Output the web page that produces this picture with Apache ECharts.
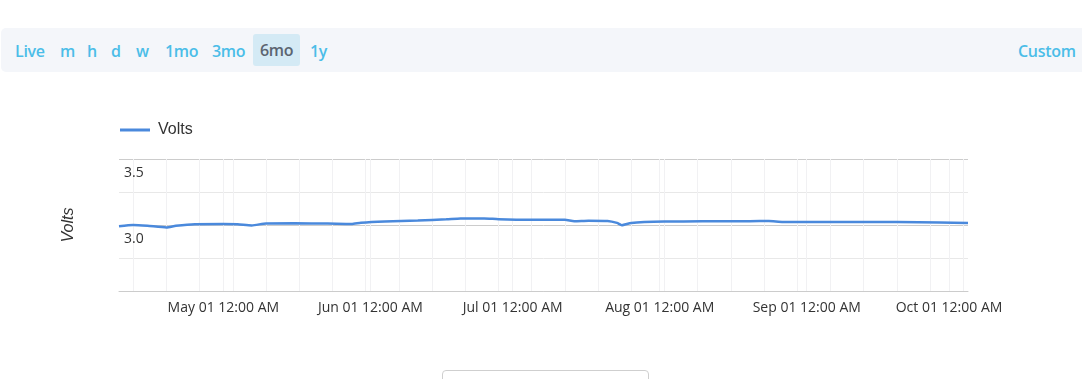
<!DOCTYPE html>
<html>
<head>
<meta charset="utf-8">
<script src="https://cdn.jsdelivr.net/npm/echarts@6/dist/echarts.min.js"></script>
<style>
  html, body { margin: 0; padding: 0; background: #ffffff; width: 1082px; height: 379px; overflow: hidden; }
  #chart { position: absolute; left: 0; top: 0; width: 1082px; height: 379px; }
  #bar { position: absolute; left: 1px; top: 28px; width: 1095px; height: 44px; background: #f4f6fa; border-radius: 5px; z-index: 2; }
  .btn { position: absolute; top: 1px; height: 44px; line-height: 44px; font-family: "Open Sans", sans-serif; font-weight: 600; font-size: 16px; letter-spacing: -0.3px; color: #4bbde8; white-space: nowrap; }
  .sel { background: #d4eaf5; color: #5b6470; border-radius: 3px; top: 6px; height: 32px; line-height: 33px; padding: 0 7px; }
  #sel { position: absolute; left: 442px; top: 370px; width: 205px; height: 20px; border: 1px solid #cfcfcf; border-radius: 4px; background: #fff; z-index: 2; }
</style>
</head>
<body>
<div id="chart"></div>
<div id="bar"></div>
<div id="sel"></div>
<script>
// ---- data ----
var rangeButtons = ['Live', 'm', 'h', 'd', 'w', '1mo', '3mo', '6mo', '1y'];
var selectedButton = '6mo';
var customButton = 'Custom';

var seriesName = 'Volts';
var dates = ['2020-04-09','2020-04-12','2020-04-15','2020-04-19','2020-04-21','2020-04-25',
             '2020-05-01','2020-05-04','2020-05-07','2020-05-10','2020-05-16','2020-05-23',
             '2020-05-28','2020-05-30','2020-06-04','2020-06-11','2020-06-17','2020-06-20',
             '2020-06-25','2020-06-28','2020-07-05','2020-07-12','2020-07-14','2020-07-17',
             '2020-07-21','2020-07-23','2020-07-24','2020-07-26','2020-08-02','2020-08-10',
             '2020-08-20','2020-08-24','2020-08-27','2020-09-20','2020-09-29','2020-10-05'];
var volts = [2.990, 3.000, 2.994, 2.982, 2.994, 3.006,
             3.007, 3.005, 2.997, 3.012, 3.013, 3.011,
             3.008, 3.017, 3.027, 3.035, 3.043, 3.050,
             3.050, 3.044, 3.040, 3.040, 3.029, 3.033,
             3.031, 3.016, 2.999, 3.016, 3.026, 3.028,
             3.029, 3.030, 3.023, 3.023, 3.019, 3.015];

var xMin = '2020-04-09';
var xMax = '2020-10-05';
var monthTicks = ['2020-05-01','2020-06-01','2020-07-01','2020-08-01','2020-09-01','2020-10-01'];
var monthNames = ['Jan','Feb','Mar','Apr','May','Jun','Jul','Aug','Sep','Oct','Nov','Dec'];
var weekTicks = ['2020-04-12','2020-04-19','2020-04-26','2020-05-03','2020-05-10','2020-05-17',
                 '2020-05-24','2020-05-31','2020-06-07','2020-06-14','2020-06-21','2020-06-28',
                 '2020-07-05','2020-07-12','2020-07-19','2020-07-26','2020-08-02','2020-08-09',
                 '2020-08-16','2020-08-23','2020-08-30','2020-09-06','2020-09-13','2020-09-20',
                 '2020-09-27','2020-10-04'];
var yMin = 2.5, yMax = 3.5, yStep = 0.25;
var yLabeled = ['3.0', '3.5'];

// ---- helpers ----
function t(s) { var p = s.split('-'); return new Date(+p[0], +p[1] - 1, +p[2]).getTime(); }
function pad(n) { return (n < 10 ? '0' : '') + n; }

// toolbar
(function () {
  var bar = document.getElementById('bar');
  var lefts = [14, 59, 86, 110, 135, 164, 211, 252, 309];
  rangeButtons.forEach(function (b, i) {
    var el = document.createElement('div');
    el.className = 'btn' + (b === selectedButton ? ' sel' : '');
    el.style.left = lefts[i] + 'px';
    el.textContent = b;
    bar.appendChild(el);
  });
  var c = document.createElement('div');
  c.className = 'btn';
  c.style.left = '1017px';
  c.textContent = customButton;
  bar.appendChild(c);
})();

var seriesData = dates.map(function (d, i) { return [t(d), volts[i]]; });
var tickVals = weekTicks.concat(monthTicks).map(t).sort(function (a, b) { return a - b; });

var chart = echarts.init(document.getElementById('chart'), null, { renderer: 'canvas' });
chart.setOption({
  animation: false,
  grid: { left: 119, right: 114, top: 159, bottom: 88, containLabel: false },
  legend: {
    left: 115, top: 117,
    icon: 'rect', itemWidth: 30, itemHeight: 3, itemGap: 10,
    textStyle: { fontFamily: '"Liberation Sans", Arial, sans-serif', fontSize: 16, color: '#333', padding: [0, 0, 0, 3] },
    data: [seriesName]
  },
  xAxis: {
    type: 'value',
    min: t(xMin), max: t(xMax),
    axisLine: { show: true, lineStyle: { color: '#cccccc', width: 1 } },
    axisTick: { show: false, customValues: tickVals },
    axisLabel: {
      customValues: monthTicks.map(t),
      margin: 10,
      fontFamily: '"Open Sans", sans-serif', fontSize: 14, color: '#333',
      formatter: function (v) { var d = new Date(v); return monthNames[d.getMonth()] + ' ' + pad(d.getDate()) + ' 12:00 AM'; }
    },
    splitLine: { show: true, lineStyle: { color: '#f1f1f3', width: 1 } }
  },
  yAxis: {
    type: 'value',
    min: yMin, max: yMax, interval: yStep,
    name: seriesName, nameLocation: 'middle', nameGap: 42,
    nameTextStyle: { fontFamily: '"Liberation Sans", Arial, sans-serif', fontSize: 16, fontStyle: 'italic', color: '#333' },
    axisLine: { show: false },
    axisTick: { show: false },
    axisLabel: {
      inside: true, margin: 5, verticalAlign: 'top', padding: [7, 0, 0, 0],
      fontFamily: '"Open Sans", sans-serif', fontSize: 14, color: '#333',
      formatter: function (v) { var s = v.toFixed(1); return (yLabeled.indexOf(s) >= 0 && Math.abs(v * 2 - Math.round(v * 2)) < 1e-9) ? s : ''; }
    },
    splitLine: { show: true, lineStyle: { color: ['#cccccc', '#e8e8e8'], width: 1 } }
  },
  series: [{
    name: seriesName,
    type: 'line',
    data: seriesData,
    showSymbol: false,
    smooth: 0.2,
    lineStyle: { color: '#4a89dc', width: 2.5 },
    itemStyle: { color: '#4a89dc' }
  }]
});
</script>
</body>
</html>
